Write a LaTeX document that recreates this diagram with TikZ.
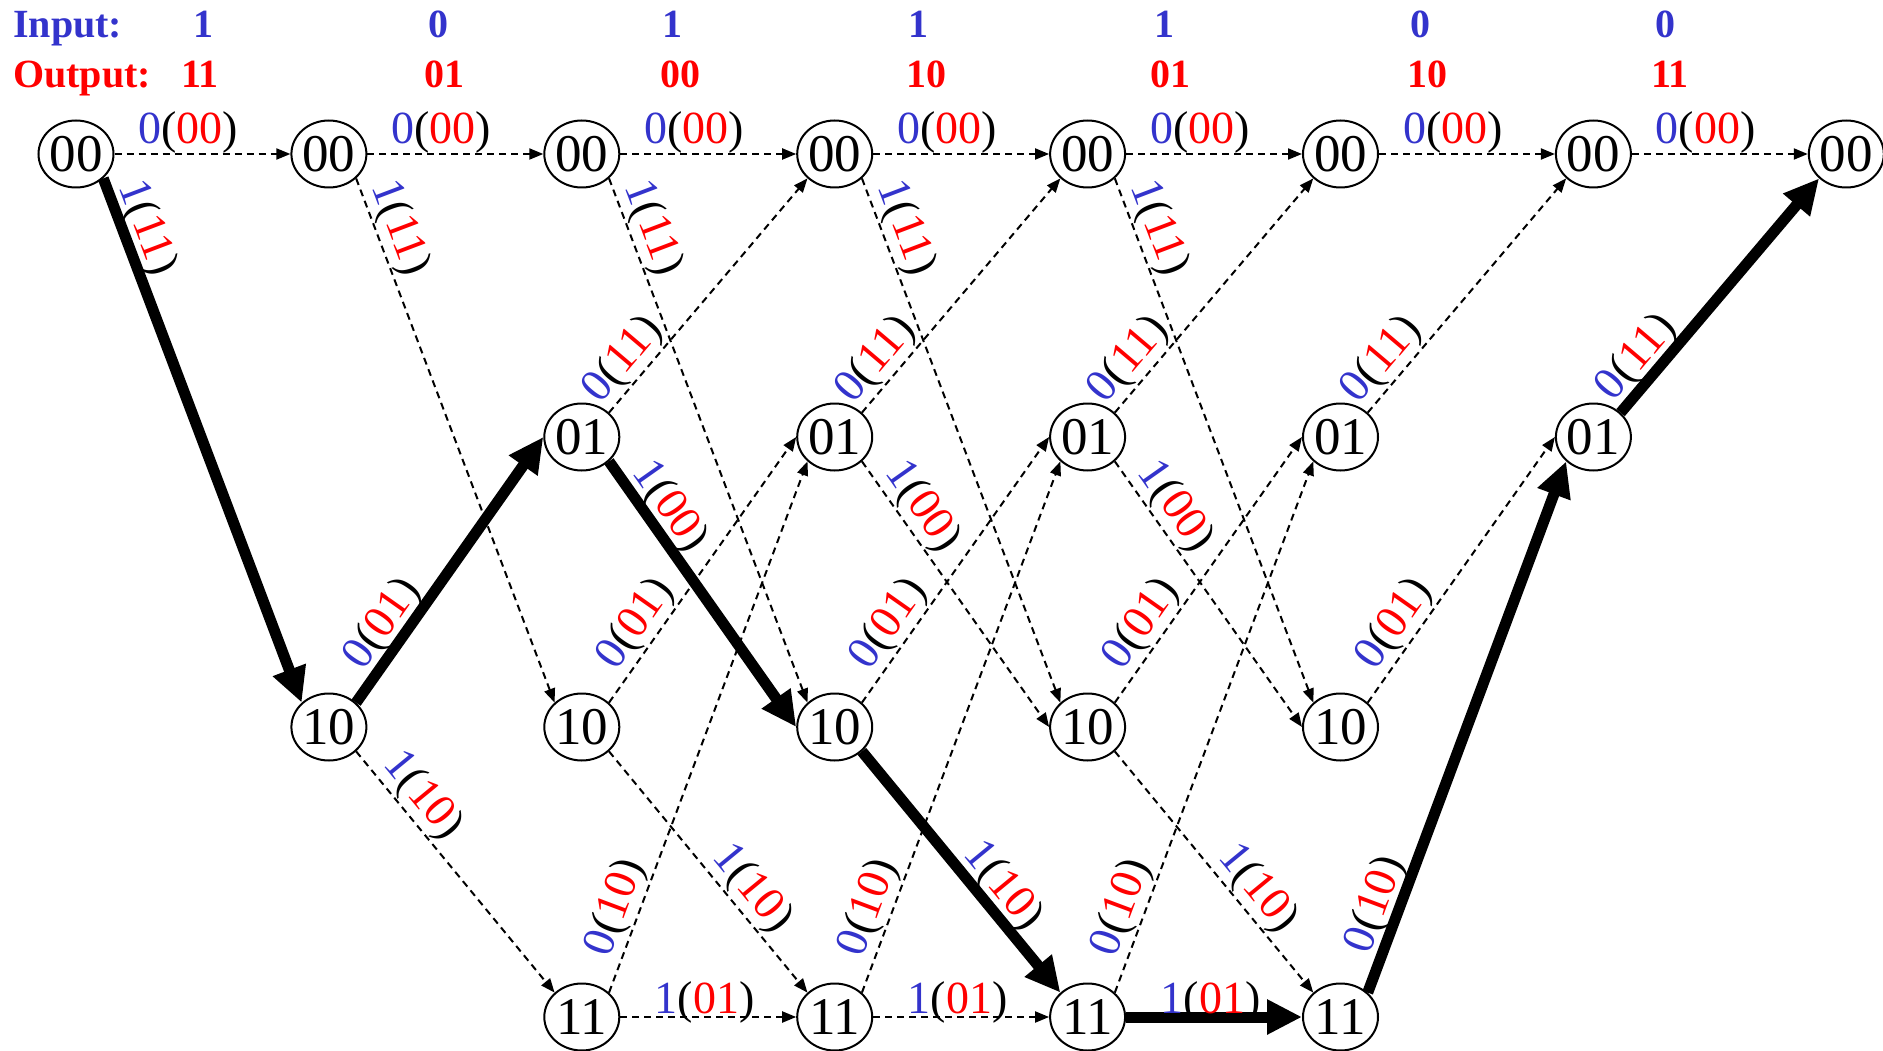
\documentclass[tikz,border=0pt]{standalone}
\usepackage{fontspec}
\setmainfont{Liberation Serif}
\usetikzlibrary{arrows.meta,shapes.geometric}
\definecolor{cbl}{RGB}{51,51,204}
\definecolor{crd}{RGB}{255,0,0}
\newcommand\tlab[2]{\textcolor{cbl}{#1}(\textcolor{crd}{#2})}
\begin{document}
\begin{tikzpicture}[x=1pt,y=-1pt,
  st/.style={ellipse, draw, line width=2pt, minimum width=75pt, minimum height=67pt, inner sep=0pt, font=\fontsize{53}{53}\selectfont},
  dsh/.style={line width=2pt, dash pattern=on 7pt off 5pt, -{Triangle[length=14pt,width=11pt]}},
  thk/.style={line width=11pt, -{Triangle[length=35pt,width=33pt]}},
  lab/.style={sloped, anchor=south, inner sep=0pt, outer ysep=2pt, font=\fontsize{46}{46}\selectfont},
  labt/.style={anchor=south, inner sep=0pt, outer ysep=1pt, font=\fontsize{46}{46}\selectfont},
  labb/.style={anchor=base, inner sep=0pt, yshift=3.5pt, font=\fontsize{46}{46}\selectfont},
  hd/.style={anchor=base, inner sep=0pt, font=\fontsize{40}{40}\selectfont\bfseries},
]
\useasboundingbox (0,0) rectangle (1883,1051);
% header
\node[hd, anchor=base west, text=cbl] (hin) at (13,38) {Input:};
\node[hd, anchor=base west, text=crd] (hout) at (13,88) {Output:};
\node[hd, text=cbl] (i1) at (203,38) {1};
\node[hd, text=cbl] (i2) at (438,38) {0};
\node[hd, text=cbl] (i3) at (672,38) {1};
\node[hd, text=cbl] (i4) at (918,38) {1};
\node[hd, text=cbl] (i5) at (1164,38) {1};
\node[hd, text=cbl] (i6) at (1420,38) {0};
\node[hd, text=cbl] (i7) at (1665,38) {0};
\node[hd, text=crd] (o1) at (200,88) {11};
\node[hd, text=crd] (o2) at (444,88) {01};
\node[hd, text=crd] (o3) at (680,88) {00};
\node[hd, text=crd] (o4) at (926,88) {10};
\node[hd, text=crd] (o5) at (1170,88) {01};
\node[hd, text=crd] (o6) at (1427,88) {10};
\node[hd, text=crd] (o7) at (1670,88) {11};
% states
\node[st] (A0) at (76,154) {00};
\node[st] (A1) at (328.9,154) {00};
\node[st] (A2) at (581.8,154) {00};
\node[st] (A3) at (834.7,154) {00};
\node[st] (A4) at (1087.6,154) {00};
\node[st] (A5) at (1340.5,154) {00};
\node[st] (A6) at (1593.4,154) {00};
\node[st] (A7) at (1846.3,154) {00};
\node[st] (B2) at (581.8,437) {01};
\node[st] (B3) at (834.7,437) {01};
\node[st] (B4) at (1087.6,437) {01};
\node[st] (B5) at (1340.5,437) {01};
\node[st] (B6) at (1593.4,437) {01};
\node[st] (C1) at (328.9,727) {10};
\node[st] (C2) at (581.8,727) {10};
\node[st] (C3) at (834.7,727) {10};
\node[st] (C4) at (1087.6,727) {10};
\node[st] (C5) at (1340.5,727) {10};
\node[st] (D2) at (581.8,1017) {11};
\node[st] (D3) at (834.7,1017) {11};
\node[st] (D4) at (1087.6,1017) {11};
\node[st] (D5) at (1340.5,1017) {11};
% top row 00 -> 00
\foreach \a/\b in {A0/A1,A1/A2,A2/A3,A3/A4,A4/A5,A5/A6,A6/A7}
  \draw[dsh] (\a.east) -- node[labt,pos=.42]{\tlab{0}{00}} (\b.west);
% 00 -> 10
\draw[thk] (A0.south east) -- node[lab,pos=.11]{\tlab{1}{11}} (C1.north west);
\foreach \a/\b in {A1/C2,A2/C3,A3/C4,A4/C5}
  \draw[dsh] (\a.south east) -- node[lab,pos=.11]{\tlab{1}{11}} (\b.north west);
% 01 -> 00
\foreach \a/\b in {B2/A3,B3/A4,B4/A5,B5/A6}
  \draw[dsh] (\a.north east) -- node[lab,pos=.16]{\tlab{0}{11}} (\b.south west);
\draw[thk] (B6.north east) -- node[lab,pos=.17]{\tlab{0}{11}} (A7.south west);
% 01 -> 10
\draw[thk] (B2.south east) -- node[lab,pos=.22]{\tlab{1}{00}} (C3.west);
\foreach \a/\b in {B3/C4,B4/C5}
  \draw[dsh] (\a.south east) -- node[lab,pos=.22]{\tlab{1}{00}} (\b.west);
% 10 -> 01
\draw[thk] (C1.north east) -- node[lab,pos=.245]{\tlab{0}{01}} (B2.west);
\foreach \a/\b in {C2/B3,C3/B4,C4/B5,C5/B6}
  \draw[dsh] (\a.north east) -- node[lab,pos=.245]{\tlab{0}{01}} (\b.west);
% 10 -> 11
\draw[dsh] (C1.south east) -- node[lab,pos=.245]{\tlab{1}{10}} (D2.north west);
\foreach \a/\b in {C2/D3,C4/D5}
  \draw[dsh] (\a.south east) -- node[lab,pos=.63]{\tlab{1}{10}} (\b.north west);
\draw[thk] (C3.south east) -- node[lab,pos=.62]{\tlab{1}{10}} (D4.north west);
% 11 -> 01
\foreach \a/\b in {D2/B3,D3/B4,D4/B5}
  \draw[dsh] (\a.north east) -- node[lab,pos=.145]{\tlab{0}{10}} (\b.south west);
\draw[thk] (D5.north east) -- node[lab,pos=.15]{\tlab{0}{10}} (B6.south west);
% 11 -> 11
\foreach \a/\b in {D2/D3,D3/D4}
  \draw[dsh] (\a.east) -- node[labb,pos=.48]{\tlab{1}{01}} (\b.west);
\draw[thk] (D4.east) -- node[labb,pos=.48]{\tlab{1}{01}} (D5.west);
\end{tikzpicture}
\end{document}
